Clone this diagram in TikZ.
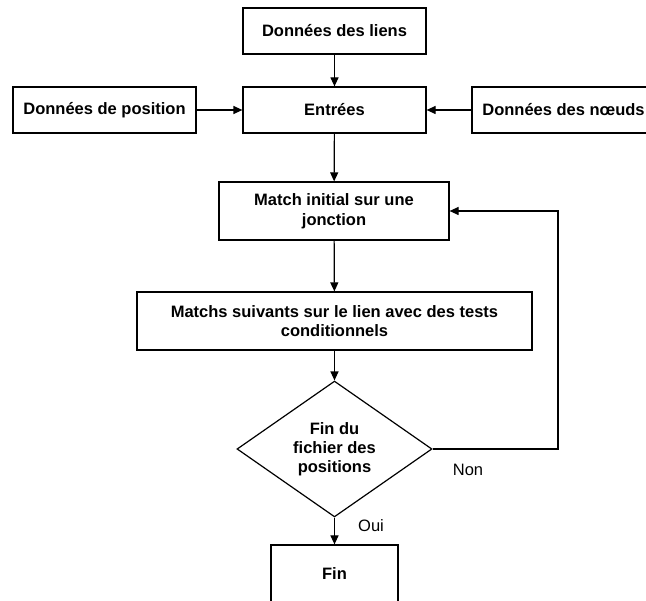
\documentclass[tikz,border=0pt]{standalone}
\usepackage{fontspec}
\setmainfont{Liberation Sans}
\usetikzlibrary{arrows.meta}
\usetikzlibrary{positioning}
\usetikzlibrary{shapes.geometric}

\tikzset{
  box/.style={draw, line width=1.2pt, rectangle, minimum width=183pt, minimum height=46pt,
    inner sep=0pt, align=center, font=\fontsize{16.5}{19.5}\selectfont\bfseries},
  decision/.style={draw, line width=1.2pt, diamond, minimum width=195pt, minimum height=116pt,
    inner sep=0pt, align=center, font=\fontsize{16.5}{19}\selectfont\bfseries},
  lbl/.style={font=\fontsize{16.5}{19.5}\selectfont}
}

\begin{document}
\begin{tikzpicture}[x=1pt, y=-1pt, >={Triangle[length=9pt,width=8pt]}, line width=1.2pt]
				\useasboundingbox (0,0) rectangle (646,601);
				
				% Draw the input boxes
				\node[box] (liens) at (334.5,31) {Données des liens};
				\node[box] (entrees) at (334.5,110) {Entrées};
				\node[box] (position) at (104.5,110) {Données de position};
				\node[box] (noeuds) at (563.5,110) {Données des nœuds};
				
				% Draw the matching steps
				\node[box, minimum width=230pt, minimum height=58pt] (initial) at (334,211) {Match initial sur une\\jonction};
				\node[box, minimum width=395pt, minimum height=58pt] (suivants) at (334.5,321) {Matchs suivants sur le lien avec des tests\\conditionnels};
				
				% Draw the test and the end
				\node[decision] (finfichier) at (334.5,449) {Fin du\\fichier des\\positions};
				\node[box, minimum width=127pt, minimum height=58pt] (fin) at (334.5,574) {Fin};
				\coordinate (retour) at (558,449);
				
				% Draw the arrows
				\draw[->] (liens) -- (entrees);
				\draw[->] (position) -- (entrees);
				\draw[->] (noeuds) -- (entrees);
				\draw[->] (entrees) -- (initial);
				\draw[->] (initial) -- (suivants);
				\draw[->] (suivants) -- (finfichier);
				\draw[->] (finfichier) -- (fin);
				\draw[->] (finfichier.east) -- (retour) |- (initial.east);
				
				% Draw the labels
				\node[lbl] (non) at (468,470) {Non};
				\node[lbl] (oui) at (371,526) {Oui};
			\end{tikzpicture}
\end{document}
